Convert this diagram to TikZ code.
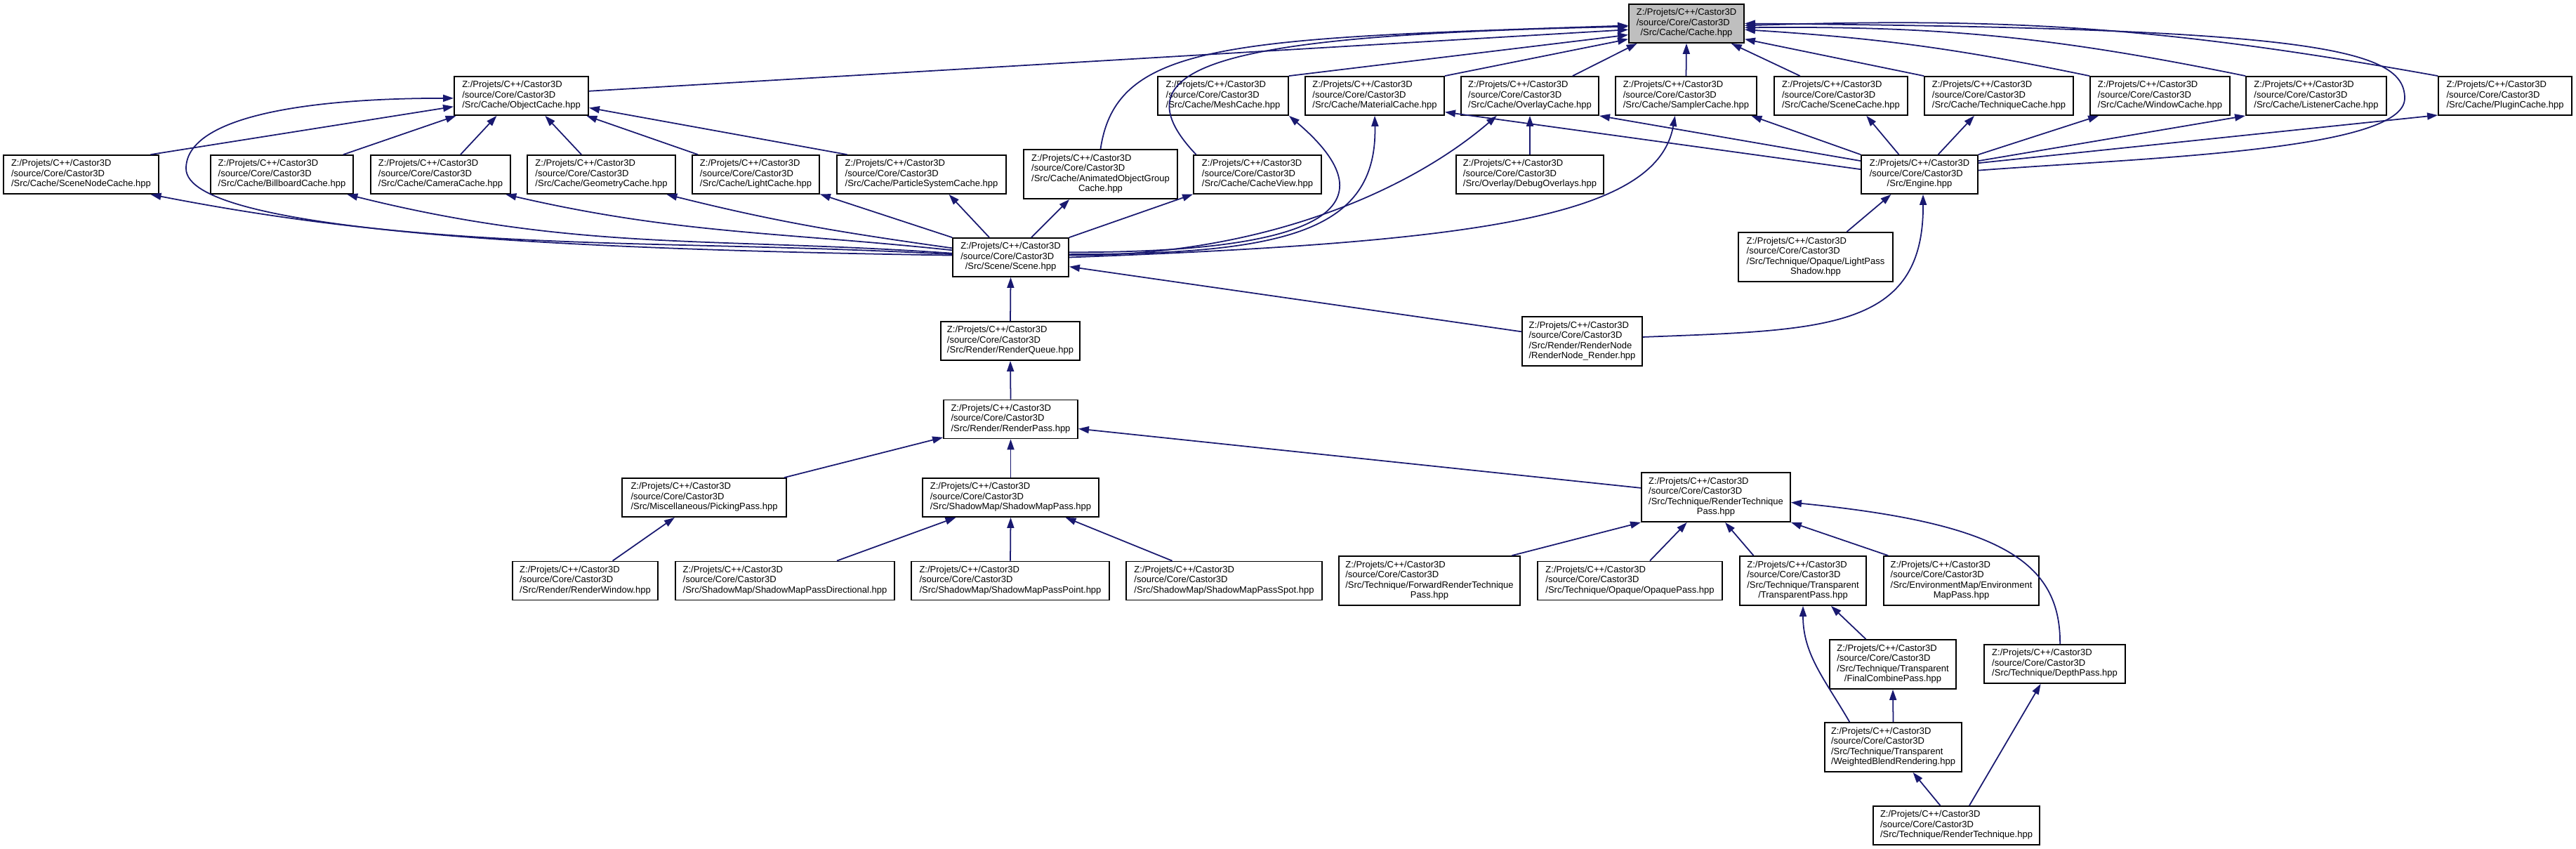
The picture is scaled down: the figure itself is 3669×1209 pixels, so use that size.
\documentclass[tikz,border=0pt]{standalone}
\usepackage{fontspec}
\setmainfont{Liberation Sans}
\usetikzlibrary{arrows.meta}

\definecolor{edgeblue}{HTML}{191970}
\definecolor{rootgray}{HTML}{BFBFBF}
\newcommand{\fsize}{\fontsize{3.7}{4.1}\selectfont}
\newcommand{\cpath}[1]{\begin{tabular}{@{}l@{}}Z:/Projets/C++/Castor3D\\/source/Core/Castor3D\\\multicolumn{1}{@{}c@{}}{#1}\end{tabular}}
\newcommand{\cpathii}[2]{\begin{tabular}{@{}l@{}}Z:/Projets/C++/Castor3D\\/source/Core/Castor3D\\#1\\\multicolumn{1}{@{}c@{}}{#2}\end{tabular}}

\begin{document}
\begin{tikzpicture}[
  x=0.01cm, y=-0.01cm,
  filebox/.style={draw, fill=white, line width=0.5pt, inner sep=0pt, minimum height=5.5mm, font=\fsize},
  tallbox/.style={filebox, minimum height=7mm},
  incl/.style={edgeblue, line width=0.5pt, {Triangle[length=1.5mm,width=1mm]}-}
]
  \useasboundingbox (0,0) rectangle (3669,1209);

  % the header everything hangs on
  \node[filebox, fill=rootgray, minimum width=16.4mm] (cache) at (2402,33.5) {\cpath{/Src/Cache/Cache.hpp}};

  \node[filebox, minimum width=19.1mm] (objcache) at (742.5,136.5) {\cpath{/Src/Cache/ObjectCache.hpp}};
  \node[filebox, minimum width=18.6mm] (meshcache) at (1742,136.5) {\cpath{/Src/Cache/MeshCache.hpp}};
  \node[filebox, minimum width=19.8mm] (matcache) at (1958,136.5) {\cpath{/Src/Cache/MaterialCache.hpp}};
  \node[filebox, minimum width=19.6mm] (ovlcache) at (2179,136.5) {\cpath{/Src/Cache/OverlayCache.hpp}};
  \node[filebox, minimum width=20.1mm] (smplcache) at (2401.5,136.5) {\cpath{/Src/Cache/SamplerCache.hpp}};
  \node[filebox, minimum width=19.0mm] (scncache) at (2622,136.5) {\cpath{/Src/Cache/SceneCache.hpp}};
  \node[filebox, minimum width=21.2mm] (techcache) at (2847,136.5) {\cpath{/Src/Cache/TechniqueCache.hpp}};
  \node[filebox, minimum width=19.9mm] (wincache) at (3076.5,136.5) {\cpath{/Src/Cache/WindowCache.hpp}};
  \node[filebox, minimum width=20.0mm] (lstcache) at (3299,136.5) {\cpath{/Src/Cache/ListenerCache.hpp}};
  \node[filebox, minimum width=19.0mm] (plgcache) at (3568,136.5) {\cpath{/Src/Cache/PluginCache.hpp}};

  \node[filebox, minimum width=22.1mm] (snodecache) at (115.5,248.5) {\cpath{/Src/Cache/SceneNodeCache.hpp}};
  \node[filebox, minimum width=20.3mm] (bbcache) at (401.5,248.5) {\cpath{/Src/Cache/BillboardCache.hpp}};
  \node[filebox, minimum width=19.9mm] (camcache) at (627.5,248.5) {\cpath{/Src/Cache/CameraCache.hpp}};
  \node[filebox, minimum width=21.1mm] (geomcache) at (856.5,248.5) {\cpath{/Src/Cache/GeometryCache.hpp}};
  \node[filebox, minimum width=18.1mm] (lightcache) at (1076.5,248.5) {\cpath{/Src/Cache/LightCache.hpp}};
  \node[filebox, minimum width=24.1mm] (pscache) at (1312.5,248.5) {\cpath{/Src/Cache/ParticleSystemCache.hpp}};
  \node[tallbox, minimum width=21.9mm] (aogcache) at (1567.5,248) {\cpathii{/Src/Cache/AnimatedObjectGroup}{Cache.hpp}};
  \node[filebox, minimum width=18.2mm] (cacheview) at (1791,248.5) {\cpath{/Src/Cache/CacheView.hpp}};
  \node[filebox, minimum width=21.0mm] (dbgovl) at (2179,248.5) {\cpath{/Src/Overlay/DebugOverlays.hpp}};
  \node[filebox, minimum width=16.6mm] (engine) at (2734,248.5) {\cpath{/Src/Engine.hpp}};

  \node[filebox, minimum width=16.5mm] (scene) at (1439.5,366.5) {\cpath{/Src/Scene/Scene.hpp}};
  \node[tallbox, minimum width=22.0mm] (lpshadow) at (2586,366) {\cpathii{/Src/Technique/Opaque/LightPass}{Shadow.hpp}};
  \node[filebox, minimum width=19.8mm] (rqueue) at (1439,485.5) {\cpath{/Src/Render/RenderQueue.hpp}};
  \node[tallbox, minimum width=17.1mm] (rnode) at (2253.5,486) {\cpathii{/Src/Render/RenderNode}{/RenderNode\_Render.hpp}};
  \node[filebox, minimum width=19.1mm] (rpass) at (1439.5,597) {\cpath{/Src/Render/RenderPass.hpp}};

  \node[filebox, minimum width=23.4mm] (picking) at (1003,708.5) {\cpath{/Src/Miscellaneous/PickingPass.hpp}};
  \node[filebox, minimum width=25.1mm] (smpass) at (1439.5,708.5) {\cpath{/Src/ShadowMap/ShadowMapPass.hpp}};
  \node[tallbox, minimum width=21.2mm] (rtpass) at (2444,708) {\cpathii{/Src/Technique/RenderTechnique}{Pass.hpp}};

  \node[filebox, minimum width=20.7mm] (rwindow) at (833.5,827) {\cpath{/Src/Render/RenderWindow.hpp}};
  \node[filebox, minimum width=31.2mm] (smpdir) at (1118,827) {\cpath{/Src/ShadowMap/ShadowMapPassDirectional.hpp}};
  \node[filebox, minimum width=28.2mm] (smppoint) at (1439,827) {\cpath{/Src/ShadowMap/ShadowMapPassPoint.hpp}};
  \node[filebox, minimum width=27.9mm] (smpspot) at (1743.5,827) {\cpath{/Src/ShadowMap/ShadowMapPassSpot.hpp}};
  \node[tallbox, minimum width=25.8mm] (fwdrtp) at (2036,827) {\cpathii{/Src/Technique/ForwardRenderTechnique}{Pass.hpp}};
  \node[filebox, minimum width=26.3mm] (opaque) at (2321.5,827) {\cpath{/Src/Technique/Opaque/OpaquePass.hpp}};
  \node[tallbox, minimum width=18.0mm] (transp) at (2568,827) {\cpathii{/Src/Technique/Transparent}{/TransparentPass.hpp}};
  \node[tallbox, minimum width=22.1mm] (envmap) at (2793.5,827) {\cpathii{/Src/EnvironmentMap/Environment}{MapPass.hpp}};

  \node[tallbox, minimum width=18.0mm] (fcombine) at (2696,946) {\cpathii{/Src/Technique/Transparent}{/FinalCombinePass.hpp}};
  \node[filebox, minimum width=20.1mm] (depth) at (2926.5,945.5) {\cpath{/Src/Technique/DepthPass.hpp}};
  \node[tallbox, minimum width=19.5mm] (wbr) at (2696.5,1064) {\cpathii{/Src/Technique/Transparent}{/WeightedBlendRendering.hpp}};
  \node[filebox, minimum width=23.7mm] (rtech) at (2786.5,1175.5) {\cpath{/Src/Technique/RenderTechnique.hpp}};

  % includes of Cache.hpp
  \draw[incl] (cache.186) -- (objcache.4);
  \draw[incl] (cache.182) .. controls (1750,55) and (1590,60) .. (aogcache.north);
  \draw[incl] (cache.183) .. controls (1750,50) and (1580,90) .. (cacheview.162);
  \draw[incl] (cache.191) -- (meshcache.north east);
  \draw[incl] (cache.195) -- (matcache.north east);
  \draw[incl] (cache.202) -- (ovlcache.25);
  \draw[incl] (cache.south) -- (smplcache.north);
  \draw[incl] (cache.336) -- (scncache.154);
  \draw[incl] (cache.345) -- (techcache.north west);
  \draw[incl] (cache.354) to[bend left=4] (wincache.north west);
  \draw[incl] (cache.356) to[bend left=6] (lstcache.north west);
  \draw[incl] (cache.358) to[bend left=6] (plgcache.north west);
  \draw[incl] (cache.east) .. controls (3300,40) and (3425,70) .. (3425,140)
    .. controls (3425,215) and (3050,225) .. (engine.4);

  % ObjectCache.hpp
  \draw[incl] (objcache.189) -- (snodecache.16);
  \draw[incl] (objcache.197) -- (bbcache.18);
  \draw[incl] (objcache.219) -- (camcache.45);
  \draw[incl] (objcache.320) -- (geomcache.135);
  \draw[incl] (objcache.343) -- (lightcache.161);
  \draw[incl] (objcache.350) -- (pscache.165);
  \draw[incl] (objcache.182) .. controls (420,140) and (265,170) .. (265,240)
    .. controls (265,330) and (800,355) .. (scene.178);

  % Scene.hpp
  \draw[incl] (snodecache.344) to[out=-11,in=177] (scene.177);
  \draw[incl] (bbcache.343) to[out=-14,in=176] (scene.176);
  \draw[incl] (camcache.343) to[out=-13,in=174] (scene.173);
  \draw[incl] (geomcache.343) to[out=-14,in=172] (scene.171);
  \draw[incl] (lightcache.343) -- (scene.north west);
  \draw[incl] (pscache.324) -- (scene.137);
  \draw[incl] (aogcache.219) -- (scene.44);
  \draw[incl] (cacheview.197) -- (scene.north east);
  \draw[incl] (meshcache.south east) .. controls (1960,270) and (1950,360) .. (scene.5);
  \draw[incl] (matcache.south) .. controls (1962,330) and (1830,362) .. (scene.3);
  \draw[incl] (ovlcache.211) .. controls (2010,270) and (1800,365) .. (scene.2);
  \draw[incl] (smplcache.241) .. controls (2360,310) and (2100,345) .. (scene.east);

  % Engine.hpp
  \draw[incl] (smplcache.343) -- (engine.north west);
  \draw[incl] (ovlcache.south east) -- (engine.167);
  \draw[incl] (matcache.347) -- (engine.175);
  \draw[incl] (scncache.322) -- (engine.136);
  \draw[incl] (techcache.219) -- (engine.47);
  \draw[incl] (wincache.198) -- (engine.north east);
  \draw[incl] (lstcache.south west) -- (engine.13);
  \draw[incl] (plgcache.196) -- (engine.11);
  \draw[incl] (ovlcache.south) -- (dbgovl.north);

  % render side
  \draw[incl] (engine.215) -- (lpshadow.39);
  \draw[incl] (engine.280) .. controls (2740,470) and (2600,470) .. (rnode.4);
  \draw[incl] (scene.351) -- (rnode.171);
  \draw[incl] (scene.south) -- (rqueue.north);
  \draw[incl] (rqueue.south) -- (rpass.north);
  \draw[incl] (rpass.195) -- (picking.14);
  \draw[incl] (rpass.south) -- (smpass.north);
  \draw[incl] (rpass.352) -- (rtpass.173);
  \draw[incl] (picking.214) -- (rwindow.36);
  \draw[incl] (smpass.200) -- (smpdir.21);
  \draw[incl] (smpass.south) -- (smppoint.north);
  \draw[incl] (smpass.340) -- (smpspot.159);
  \draw[incl] (rtpass.south west) -- (fwdrtp.17);
  \draw[incl] (rtpass.221) -- (opaque.45);
  \draw[incl] (rtpass.290) -- (transp.153);
  \draw[incl] (rtpass.south east) -- (envmap.161);
  \draw[incl] (rtpass.356) .. controls (2850,745) and (2935,800) .. (depth.75);
  \draw[incl] (transp.318) -- (fcombine.137);
  \draw[incl] (transp.south) to[out=-90,in=120] (wbr.150);
  \draw[incl] (fcombine.south) -- (wbr.north);
  \draw[incl] (wbr.308) -- (rtech.129);
  \draw[incl] (depth.235) -- (rtech.57);
\end{tikzpicture}
\end{document}
